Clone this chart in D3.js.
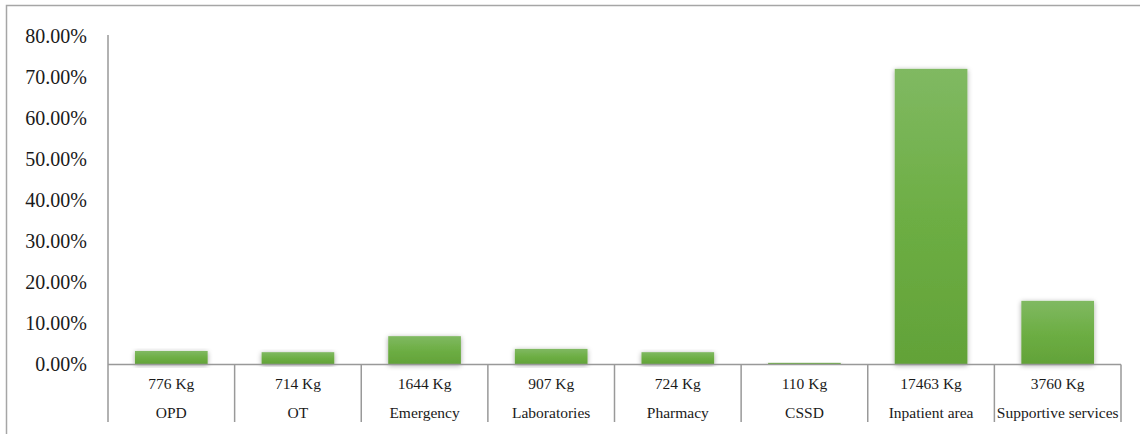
<!DOCTYPE html>
<html>
<head>
<meta charset="utf-8">
<script src="https://cdn.jsdelivr.net/npm/d3@7"></script>
<style>
  html, body { margin: 0; padding: 0; background: #fff; }
  svg { display: block; font-family: "Liberation Serif", "Times New Roman", serif; }
</style>
</head>
<body>
<div id="chart"></div>
<script>
// data
var categories = ["OPD", "OT", "Emergency", "Laboratories", "Pharmacy", "CSSD", "Inpatient area", "Supportive services"];
var weights = ["776 Kg", "714 Kg", "1644 Kg", "907 Kg", "724 Kg", "110 Kg", "17463 Kg", "3760 Kg"];
var percents = [3.3, 3.0, 6.9, 3.8, 3.0, 0.4, 72.0, 15.5];
var yTicks = [0, 10, 20, 30, 40, 50, 60, 70, 80];

var W = 1140, H = 434;
var plotLeft = 108, plotRight = 1121, plotTop = 36, base = 364.5, plotBottom = 422;

var svg = d3.select("#chart").append("svg").attr("width", W).attr("height", H);

// gradient + shadow
var defs = svg.append("defs");
var grad = defs.append("linearGradient").attr("id", "barGrad")
  .attr("x1", 0).attr("y1", 0).attr("x2", 0).attr("y2", 1);
grad.append("stop").attr("offset", "0%").attr("stop-color", "#80b962");
grad.append("stop").attr("offset", "50%").attr("stop-color", "#6dae44");
grad.append("stop").attr("offset", "100%").attr("stop-color", "#62a238");
var f = defs.append("filter").attr("id", "shadow")
  .attr("x", "-20%").attr("y", "-20%").attr("width", "140%").attr("height", "140%");
f.append("feDropShadow").attr("dx", 0).attr("dy", 1).attr("stdDeviation", 2.5)
  .attr("flood-color", "#000").attr("flood-opacity", 0.35);

// outer border (only top & left visible)
svg.append("rect").attr("x", 6.5).attr("y", 5.5).attr("width", 1300).attr("height", 600)
  .attr("fill", "none").attr("stroke", "#a6a6a6").attr("stroke-width", 1.5);

// scales
var xCat = d3.scaleBand().domain(categories).range([plotLeft, plotRight]);
var x = d3.scaleBand().domain(categories).range([plotLeft, plotRight])
  .paddingInner(0.426).paddingOuter(0.213);
var y = d3.scaleLinear().domain([0, 80]).range([base, plotTop]);

// y axis labels
var yAxis = d3.axisLeft(y).tickValues(yTicks).tickSize(0).tickPadding(21)
  .tickFormat(function (d) { return d3.format(".2f")(d) + "%"; });
var yAxisG = svg.append("g").attr("transform", "translate(" + plotLeft + ",0)").call(yAxis);
yAxisG.select(".domain").remove();
yAxisG.selectAll("text").attr("font-size", "20px").attr("fill", "#1a1a1a")
  .attr("font-family", "Liberation Serif, serif");

// bars
svg.append("g").selectAll("rect").data(percents).join("rect")
  .attr("x", function (d, i) { return x(categories[i]); })
  .attr("y", function (d) { return y(d); })
  .attr("width", x.bandwidth())
  .attr("height", function (d) { return base - y(d); })
  .attr("fill", "url(#barGrad)")
  .attr("filter", "url(#shadow)");

// axis lines
var lineColor = "#999999";
svg.append("line").attr("x1", plotLeft).attr("x2", plotLeft).attr("y1", 35).attr("y2", plotBottom)
  .attr("stroke", lineColor).attr("stroke-width", 1.5);
svg.append("line").attr("x1", plotLeft).attr("x2", plotRight).attr("y1", base).attr("y2", base)
  .attr("stroke", lineColor).attr("stroke-width", 1.5);
var dividers = categories.map(function (c) { return xCat(c); }).slice(1).concat([plotRight]);
svg.append("g").selectAll("line").data(dividers).join("line")
  .attr("x1", function (d) { return d; }).attr("x2", function (d) { return d; })
  .attr("y1", base).attr("y2", plotBottom)
  .attr("stroke", lineColor).attr("stroke-width", 1.5);

// category labels (weight + name)
var labels = svg.append("g").attr("font-size", "15.5px").attr("fill", "#1a1a1a")
  .attr("text-anchor", "middle");
labels.selectAll("text.w").data(weights).join("text").attr("class", "w")
  .attr("x", function (d, i) { return xCat(categories[i]) + xCat.bandwidth() / 2; })
  .attr("y", 389)
  .text(function (d) { return d; });
labels.selectAll("text.c").data(categories).join("text").attr("class", "c")
  .attr("x", function (d) { return xCat(d) + xCat.bandwidth() / 2; })
  .attr("y", 418)
  .text(function (d) { return d; });
</script>
</body>
</html>
